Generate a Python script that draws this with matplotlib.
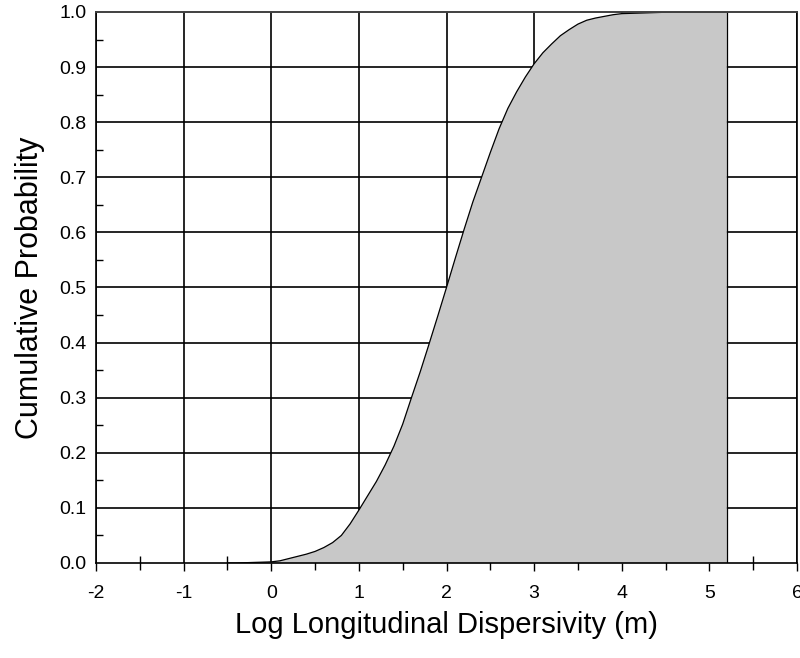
import numpy as np
import matplotlib.pyplot as plt
from matplotlib.ticker import MultipleLocator

plt.rcParams['font.family'] = ['Liberation Sans', 'DejaVu Sans']
plt.rcParams['axes.unicode_minus'] = False

# cumulative probability of log longitudinal dispersivity
log_disp = [-0.5, -0.4, -0.3, -0.2, -0.1, 0.0, 0.1, 0.2, 0.3, 0.4,
            0.5, 0.6, 0.7, 0.8, 0.9, 1.0, 1.1, 1.2, 1.3, 1.4,
            1.5, 1.6, 1.7, 1.8, 1.9, 2.0, 2.1, 2.2, 2.3, 2.4,
            2.5, 2.6, 2.7, 2.8, 2.9, 3.0, 3.1, 3.2, 3.3, 3.4,
            3.5, 3.6, 3.7, 3.8, 3.9, 4.0, 4.2, 4.4, 4.6, 4.8, 5.0, 5.2]
cum_prob = [0.000, 0.000, 0.0005, 0.001, 0.0015, 0.002, 0.004, 0.008, 0.012, 0.016,
            0.021, 0.028, 0.037, 0.050, 0.071, 0.096, 0.122, 0.148, 0.178, 0.212,
            0.252, 0.300, 0.347, 0.397, 0.448, 0.500, 0.553, 0.605, 0.655, 0.700,
            0.745, 0.788, 0.825, 0.855, 0.882, 0.906, 0.926, 0.942, 0.957, 0.968,
            0.978, 0.985, 0.989, 0.992, 0.995, 0.997, 0.998, 0.999, 1.0, 1.0, 1.0, 1.0]

fig = plt.figure(figsize=(8, 6.58), dpi=100)
ax = fig.add_axes([0.12, 0.1444, 0.87625, 0.8374])

# grid first, filled distribution over it
for gx in range(-2, 7):
    ax.axvline(gx, color='black', lw=1.2, zorder=1)
for gy in np.arange(0.1, 1.0, 0.1):
    ax.axhline(gy, color='black', lw=1.2, zorder=1)

x = np.array(log_disp)
p = np.array(cum_prob)
ax.fill_between(x, 0, p, facecolor='#c8c8c8', edgecolor='none', zorder=2)
ax.plot(x, p, color='black', lw=0.9, zorder=3)
ax.plot([x[-1], x[-1]], [0, p[-1]], color='black', lw=0.9, zorder=3)

ax.set_xlim(-2, 6)
ax.set_ylim(0, 1)
ax.xaxis.set_major_locator(MultipleLocator(1))
ax.xaxis.set_minor_locator(MultipleLocator(0.5))
ax.yaxis.set_major_locator(MultipleLocator(0.1))
ax.yaxis.set_minor_locator(MultipleLocator(0.05))
ax.yaxis.set_major_formatter(plt.FormatStrFormatter('%.1f'))

ax.tick_params(axis='x', which='major', direction='out', length=6, width=1,
               pad=10, labelsize=14)
ax.tick_params(axis='x', which='minor', direction='inout', length=10, width=1)
ax.tick_params(axis='y', which='major', length=0, pad=7, labelsize=14)
ax.tick_params(axis='y', which='minor', direction='in', length=5, width=1)

for side in ['left', 'bottom', 'right']:
    ax.spines[side].set_linewidth(1.2)
    ax.spines[side].set_color('black')
ax.spines['top'].set_linewidth(1.4)
ax.spines['top'].set_color('#404040')
for s in ax.spines.values():
    s.set_zorder(4)

ax.set_xlabel('Log Longitudinal Dispersivity (m)', fontsize=21, labelpad=6)
ax.set_ylabel('Cumulative Probability', fontsize=22, labelpad=10)

fig.savefig('out.png', dpi=100)
